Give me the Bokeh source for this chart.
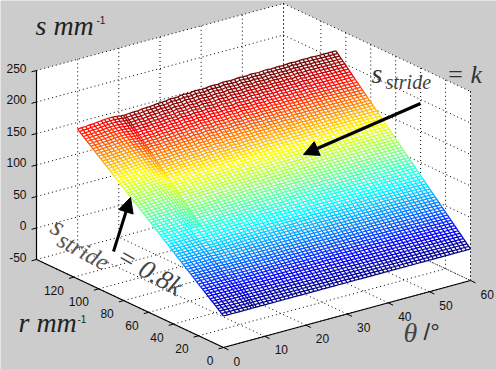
from bokeh.plotting import figure
from bokeh.models import Arrow, NormalHead, Range1d
from bokeh.core.properties import value
from bokeh.embed import file_html
from bokeh.resources import INLINE
import numpy as np

# Ticks
z_ticks = [-50, 0, 50, 100, 150, 200, 250]
r_ticks = [0, 20, 40, 60, 80, 100, 120]
theta_ticks = [0, 10, 20, 30, 40, 50, 60]
r_lim = 150

# Surface: upper boundary, one mesh column per theta
theta_cols = [0, 1, 2, 3, 4, 5, 6, 6.8, 7.0, 7.2, 7.4, 7.6, 7.8] + list(range(8, 61))
r_top = [117.0, 117.2, 117.3, 117.5, 117.6, 117.8, 117.9, 118.0, 115.4, 112.8, 110.2, 107.6, 106.0,
         105.0, 105.1, 105.1, 105.2, 105.3, 105.3, 105.4, 105.5, 105.5, 105.6,
         105.7, 105.8, 105.8, 105.9, 106.0, 106.0, 106.1, 106.2, 106.2, 106.3,
         106.4, 106.4, 106.5, 106.6, 106.6, 106.7, 106.8, 106.8, 106.9, 107.0,
         107.0, 107.1, 107.2, 107.2, 107.3, 107.4, 107.4, 107.5, 107.6, 107.6,
         107.7, 107.8, 107.8, 107.9, 108.0, 108.0, 108.0, 108.0, 108.0, 108.0,
         108.0, 108.0, 108.0]
s_top = [187.5, 188.0, 188.0, 188.5, 188.5, 189.0, 189.5, 190.0, 194.0, 198.0, 201.0, 204.0, 206.0,
         207.5, 208.0, 208.5, 208.0, 209.0, 209.5, 209.5, 210.0, 211.0, 210.5,
         211.0, 212.5, 212.0, 212.0, 213.5, 213.0, 212.5, 214.0, 213.5, 213.0,
         213.5, 214.5, 214.0, 213.5, 215.0, 214.5, 214.0, 214.0, 215.0, 214.5,
         214.0, 215.0, 214.5, 214.0, 214.5, 215.0, 214.0, 214.5, 214.5, 214.0,
         214.5, 215.0, 214.0, 214.5, 214.5, 214.0, 214.5, 214.0, 214.0, 214.0,
         214.0, 214.0, 214.0]
fold_cols = [8, 9, 11, 12]       # mesh columns of the fold
fold_from_row = 32               # the fold is seen only above this mesh row
mesh_rows = 76
s_color_max = 215.0

JET = [(0, 0, .5), (0, 0, 1), (0, 1, 1), (1, 1, 0), (1, 0, 0), (.45, 0, 0)]
JET_POS = [0, .11, .36, .64, .87, .98]


def jet(v):
    c = [np.interp(v, JET_POS, [k[i] for k in JET]) for i in range(3)]
    return "#%02x%02x%02x" % tuple(int(x * 255) for x in c)


def px(theta, r):
    return 223 + 247 * np.asarray(theta) / 60 - 187 * np.asarray(r) / r_lim


def py(theta, r, z):
    return 347 - 67 * np.asarray(theta) / 60 - 88 * np.asarray(r) / r_lim - 0.63 * (np.asarray(z) + 50)


p = figure(width=496, height=369, output_backend="svg", toolbar_location=None,
           x_range=Range1d(0, 496), y_range=Range1d(369, 0), min_border=0,
           background_fill_color="#cccccc", border_fill_color="#cccccc", outline_line_color=None)
p.xaxis.visible = False
p.yaxis.visible = False
p.xgrid.visible = False
p.ygrid.visible = False

zlo, zhi = z_ticks[0], z_ticks[-1]
# Walls and floor
p.patch([px(0, r_lim), px(60, r_lim), px(60, 0), px(60, 0), px(0, 0), px(0, r_lim)],
        [py(0, r_lim, zhi), py(60, r_lim, zhi), py(60, 0, zhi), py(60, 0, zlo), py(0, 0, zlo), py(0, r_lim, zlo)],
        fill_color="white", line_color=None)

gx0, gy0, gx1, gy1 = [], [], [], []


def g(a, b):
    gx0.append(float(px(a[0], a[1])))
    gy0.append(float(py(*a)))
    gx1.append(float(px(b[0], b[1])))
    gy1.append(float(py(*b)))


for z in z_ticks:
    g((0, r_lim, z), (60, r_lim, z))
    g((60, r_lim, z), (60, 0, z))
for t in theta_ticks:
    g((t, r_lim, zlo), (t, r_lim, zhi))
    g((t, 0, zlo), (t, r_lim, zlo))
for r in r_ticks:
    g((60, r, zlo), (60, r, zhi))
    g((0, r, zlo), (60, r, zlo))
g((60, r_lim, zlo), (60, r_lim, zhi))
g((60, 0, zlo), (60, 0, zhi))
p.segment(gx0, gy0, gx1, gy1, line_color="black", line_width=1, line_dash="1 3")

# Mesh
th = np.array(theta_cols, float)
rt = np.array(r_top)
st = np.array(s_top)
frac = np.arange(mesh_rows + 1) / mesh_rows
R = np.outer(frac, rt)
S = np.outer(frac, st)
T = np.tile(th, (mesh_rows + 1, 1))
X = px(T, R)
Y = py(T, R, S)

p.patch(list(X[:, 0]) + list(X[-1, :]) + list(X[::-1, -1]),
        list(Y[:, 0]) + list(Y[-1, :]) + list(Y[::-1, -1]), fill_color="white", line_color=None)

sx0, sy0, sx1, sy1, col = [], [], [], [], []
n, m = X.shape
for i in range(n):
    row_cols = list(range(m)) if i >= fold_from_row else [j for j in range(m) if j not in fold_cols]
    for a, b in zip(row_cols[:-1], row_cols[1:]):
        sx0.append(X[i, a]); sy0.append(Y[i, a]); sx1.append(X[i, b]); sy1.append(Y[i, b])
        col.append(jet((S[i, a] + S[i, b]) / 2 / s_color_max))
    if i + 1 < n:
        for j in (range(m) if i >= fold_from_row else row_cols):
            sx0.append(X[i, j]); sy0.append(Y[i, j]); sx1.append(X[i + 1, j]); sy1.append(Y[i + 1, j])
            col.append(jet((S[i, j] + S[i + 1, j]) / 2 / s_color_max))
p.segment(sx0, sy0, sx1, sy1, line_color=col, line_width=1.25)

# Axis lines and ticks
ax = [((0, r_lim, zlo), (0, r_lim, zhi)), ((0, r_lim, zlo), (0, 0, zlo)), ((0, 0, zlo), (60, 0, zlo))]
p.segment([float(px(a[0], a[1])) for a, b in ax], [float(py(*a)) for a, b in ax],
          [float(px(b[0], b[1])) for a, b in ax], [float(py(*b)) for a, b in ax],
          line_color="black", line_width=1.2)
tx0, ty0, tx1, ty1 = [], [], [], []
for z in z_ticks:
    a, b = (0, r_lim, z), (-1.2, r_lim, z)
    tx0.append(float(px(a[0], a[1]))); ty0.append(float(py(*a))); tx1.append(float(px(b[0], b[1]))); ty1.append(float(py(*b)))
for r in r_ticks:
    a, b = (0, r, zlo), (-1.2, r, zlo)
    tx0.append(float(px(a[0], a[1]))); ty0.append(float(py(*a))); tx1.append(float(px(b[0], b[1]))); ty1.append(float(py(*b)))
for t in theta_ticks:
    a, b = (t, 0, zlo), (t, -4, zlo)
    tx0.append(float(px(a[0], a[1]))); ty0.append(float(py(*a))); tx1.append(float(px(b[0], b[1]))); ty1.append(float(py(*b)))
p.segment(tx0, ty0, tx1, ty1, line_color="black", line_width=1)

# Tick labels
tick_font = value("Liberation Sans")
p.text([26] * len(z_ticks), [float(py(0, r_lim, z)) - 2.5 for z in z_ticks], [str(z) for z in z_ticks],
       text_font=tick_font, text_font_size="12px", text_align="right", text_baseline="middle", text_color="#111111")
p.text([float(px(0, r)) - 10 for r in r_ticks], [float(py(0, r, zlo)) + 13 for r in r_ticks], [str(r) for r in r_ticks],
       text_font=tick_font, text_font_size="12px", text_align="right", text_baseline="middle", text_color="#111111")
p.text([float(px(t, 0)) + 10 for t in theta_ticks], [float(py(t, 0, zlo)) + 13.5 for t in theta_ticks], [str(t) for t in theta_ticks],
       text_font=tick_font, text_font_size="12px", text_align="left", text_baseline="middle", text_color="#111111")

serif = value("Liberation Serif")


def label(x, y, s, size, style="italic", font=serif, color="#222222", angle=0):
    p.text([x], [y - 0.36 * size], [s], text_font=font, text_font_size=f"{size}px", text_font_style=style,
           text_color=color, text_baseline="alphabetic", text_align="left", angle=angle)


label(35, 35, "s mm", 28)
label(96, 23, "-1", 10, style="normal", font=tick_font)
label(18, 332, "r mm", 28)
label(77, 322, "-1", 10, style="normal", font=tick_font)
label(403, 342, "θ", 28, color="#444444")
label(423, 340, "/°", 24, style="normal", font=tick_font, color="#333333")
label(371, 83, "s", 28, color="#333333")
label(385, 89, "stride", 20, color="#444444")
label(446, 83, "= k", 26, color="#333333")

# rotated label
label(53, 233, "s", 28, color="#555555", angle=-0.52)
label(59, 246, "stride", 24, color="#555555", angle=-0.5)
label(119, 263, "= 0.8k", 27, color="#444444", angle=-0.52)

# Arrows
arrow_starts = [(420, 103), (113, 251)]
arrow_tips = [(303, 154), (130, 197)]
for (x0, y0), (x1, y1) in zip(arrow_starts, arrow_tips):
    p.add_layout(Arrow(end=NormalHead(size=15, fill_color="black", line_color="black"),
                       x_start=x0, y_start=y0, x_end=x1, y_end=y1, line_color="black", line_width=3))

open("out.html", "w").write(file_html(p, INLINE))
